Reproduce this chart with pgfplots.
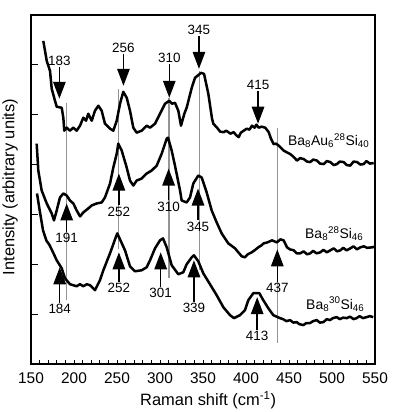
\documentclass[border=0pt]{standalone}
\usepackage{fontspec}
\setmainfont{Liberation Sans}
\usepackage{pgfplots}
\pgfplotsset{compat=1.18}
\usetikzlibrary{arrows.meta}
\tikzset{
  curve/.style={black, line width=2.5bp, line join=round},
  gl/.style={black!42, line width=1.2bp},
  arr/.style={black, line width=1.4bp, -{Triangle[length=17bp, width=12.5bp]}},
  lab/.style={font=\fontsize{13.5}{15}\selectfont, inner sep=1bp},
  blab/.style={font=\fontsize{14}{16}\selectfont, inner sep=0bp, anchor=west},
}

\begin{document}
\begin{tikzpicture}
\begin{axis}[
  scale only axis, width=344bp, height=349bp,
  xmin=150, xmax=550, ymin=0, ymax=7,
  xtick={150,200,...,550},
  minor x tick num=4,
  ytick={1,2,3,4,5,6}, yticklabels={},
  tick align=inside,
  xtick pos=bottom, ytick pos=left,
  major tick length=4bp, minor tick length=4bp,
  ytick style={/pgfplots/major tick length=7bp},
  tick style={black, line width=0.9bp},
  axis line style={line width=1.8bp},
  /pgf/number format/assume math mode=true,
  ticklabel style={font=\fontsize{15.5}{18}\selectfont},
  xticklabel style={yshift=-5bp},
  xlabel={Raman shift (cm\textsuperscript{-1})},
  ylabel={Intensity (arbitrary units)},
  label style={font=\fontsize{16.5}{19}\selectfont},
  xlabel style={at={(axis description cs:0.515,-0.103)}, anchor=center},
  ylabel style={at={(axis description cs:-0.061,0.507)}, anchor=center},
  clip=false,
]
\coordinate (O) at (rel axis cs:0,0);

% gray guide lines
\draw[gl] (axis cs:191.5,5.24) -- (axis cs:191.5,1.28);
\draw[gl] (axis cs:252.2,5.52) -- (axis cs:252.2,2.30);
\draw[gl] (axis cs:310.5,5.34) -- (axis cs:310.5,1.72);
\draw[gl] (axis cs:345.5,5.88) -- (axis cs:345.5,1.88);
\draw[gl] (axis cs:436.4,4.74) -- (axis cs:436.4,0.42);

% Ba8Au6 28Si40
\addplot[curve, no marks] coordinates {
(164.3,6.48)(168.3,6.08)(172.1,5.88)(174.1,5.52)(177.9,5.28)(179.9,5.16)(185.7,5.14)
(187.6,4.94)(188.7,4.68)(191.5,4.74)(195.3,4.68)(199.2,4.74)(203.1,4.68)(207.0,4.78)
(210.8,4.94)(214.0,4.88)(216.6,5.02)(220.6,4.88)(224.4,5.08)(228.3,5.18)(232.2,5.08)
(236.0,4.82)(241.9,4.72)(245.7,4.68)(249.7,4.88)(253.5,5.22)(257.3,5.46)(261.3,5.34)
(265.1,5.08)(269.0,4.74)(272.9,4.64)(278.7,4.68)(284.5,4.78)(288.4,4.74)(294.2,4.82)
(300.0,5.02)(305.8,5.22)(310.8,5.28)(314,5.22)(317.4,5.24)(321.3,5.08)(324.4,4.78)(328.3,5.02)
(331.0,5.14)(336.9,5.54)(340.7,5.74)(347.7,5.84)(351.2,5.82)(356.2,5.42)(360.5,4.92)
(362.0,4.82)(366.3,4.74)(370,4.66)(374.1,4.65)(377,4.68)(379.4,4.65)(382,4.62)(385.7,4.65)
(388,4.60)(391.5,4.55)(394,4.64)(397.3,4.68)(401,4.72)(404,4.70)(407,4.78)(410,4.74)
(412,4.80)(414.8,4.74)(418,4.76)(422.4,4.74)(426.4,4.65)(429,4.52)(432.2,4.41)(435,4.42)
(438,4.38)(441,4.33)(443.8,4.28)(447,4.25)(451.5,4.21)(455,4.16)(459.3,4.08)(463,4.13)
(467.1,4.11)(471,4.06)(474.8,4.05)(478,4.10)(482.6,4.08)(486,4.02)(490.3,4.01)(494,4.07)
(498,4.05)(502,3.99)(505.8,4.01)(509,4.06)(513.6,4.05)(517,3.99)(521.3,3.98)(525,4.06)
(529.1,4.05)(533,4.00)(536.9,4.01)(540,4.07)(544,4.02)(548.5,4.03)
};

% Ba8 28Si46
\addplot[curve, no marks] coordinates {
(156.6,4.42)(158.5,3.88)(162.4,3.48)(168.3,3.22)(174.1,3.02)(176.7,2.88)(179.9,3.08)
(183.7,3.34)(187.6,3.42)(191.5,3.38)(195.3,3.28)(199.2,3.22)(203.1,3.08)(207.0,2.96)
(210.8,3.04)(216.6,3.12)(220.6,3.18)(226.4,3.22)(232.2,3.24)(236.0,3.34)(241.9,3.62)
(245.7,3.94)(249.7,4.22)(251.5,4.42)(255.5,4.28)(261.3,3.94)(265.1,3.68)(269.0,3.58)
(272.9,3.68)(278.7,3.72)(284.5,3.82)(290.3,3.88)(296.2,3.98)(302.0,4.22)(307.8,4.52)
(309.3,4.54)(313.6,4.28)(317.4,3.98)(323.3,3.48)(325.2,3.28)(331.0,3.24)(334.9,3.34)
(338.7,3.62)(344.5,3.78)(348.5,3.74)(354.3,3.44)(360.1,3.08)(365.9,2.84)(371.7,2.62)
(379.4,2.42)(387.2,2.32)(395.0,2.16)(398.8,2.14)(402,2.20)(406.6,2.24)(410,2.28)(414.3,2.34)
(418,2.38)(420.6,2.42)(425,2.44)(430.2,2.48)(433,2.46)(436.0,2.44)(440,2.50)(443.8,2.48)
(447.7,2.34)(451,2.30)(455.5,2.28)(459,2.22)(463.1,2.22)(467,2.26)(471,2.20)(474.8,2.22)
(478,2.27)(482,2.22)(486.4,2.24)(490,2.29)(494,2.24)(498,2.28)(502,2.32)(506,2.26)
(509.7,2.28)(513,2.33)(517,2.28)(521.3,2.32)(525,2.36)(529,2.30)(532.9,2.34)(537,2.36)
(541,2.33)(546.5,2.34)(549,2.35)
};

% Ba8 30Si46
\addplot[curve, no marks] coordinates {
(157.0,3.42)(160.1,3.08)(164.0,2.68)(167.8,2.48)(171.7,2.38)(175.6,2.24)(179.9,2.08)
(185.7,1.92)(189.5,1.72)(195.3,1.60)(203.1,1.56)(207,1.60)(210.8,1.56)(215,1.60)(218.6,1.58)
(224.4,1.48)(230.2,1.68)(234.1,1.88)(241.9,2.22)(247.7,2.50)(250.3,2.62)(253.5,2.50)
(259.3,2.28)(265.1,1.96)(270.9,1.86)(278.7,1.88)(284.5,1.94)(288.4,2.08)(294.2,2.32)
(300.0,2.48)(303.5,2.52)(307.8,2.34)(313.6,1.98)(321.3,1.80)(327.1,1.84)(331.0,2.00)
(336.9,2.14)(339.5,2.18)(344.5,2.06)(350.3,1.82)(358.1,1.60)(365.9,1.38)(373.6,1.14)
(381.4,0.98)(386.0,0.92)(393.0,0.98)(398.8,1.08)(402.7,1.28)(408.5,1.42)(415.5,1.42)
(420.1,1.28)(425.9,1.12)(431.7,0.98)(435.5,0.95)(439.5,0.92)(443,0.90)(447,0.86)(451.2,0.88)
(455,0.83)(458.9,0.84)(462,0.80)(466.6,0.78)(470,0.82)(474.4,0.82)(478,0.86)(482.2,0.88)
(486,0.83)(490,0.84)(494,0.90)(497.7,0.88)(501,0.92)(505.5,0.94)(509,0.90)(513,0.93)
(517.1,0.92)(521,0.95)(525,0.90)(528.7,0.92)(532,0.96)(536,0.92)(540.3,0.94)(544,0.96)
(548,0.94)
};

% down arrows (top spectrum)
\draw[arr] (axis cs:183,5.96) -- (axis cs:183,5.32);
\node[lab,anchor=south] at (axis cs:183,5.96) {183};
\draw[arr] (axis cs:257.5,6.22) -- (axis cs:257.5,5.58);
\node[lab,anchor=south] at (axis cs:257.5,6.22) {256};
\draw[arr] (axis cs:310.8,6.02) -- (axis cs:310.8,5.34);
\node[lab,anchor=south] at (axis cs:310.8,6.02) {310};
\draw[arr] (axis cs:345.3,6.58) -- (axis cs:345.3,5.92);
\node[lab,anchor=south] at (axis cs:345.3,6.58) {345};
\draw[arr] (axis cs:414,5.48) -- (axis cs:414,4.82);
\node[lab,anchor=south] at (axis cs:414,5.48) {415};

% up arrows (middle spectrum)
\draw[arr] (axis cs:191.5,2.64) -- (axis cs:191.5,3.22);
\node[lab,anchor=north] at (axis cs:191.5,2.64) {191};
\draw[arr] (axis cs:252.2,3.18) -- (axis cs:252.2,3.82);
\node[lab,anchor=north] at (axis cs:252.2,3.18) {252};
\draw[arr] (axis cs:310,3.28) -- (axis cs:310,3.92);
\node[lab,anchor=north] at (axis cs:310,3.28) {310};
\draw[arr] (axis cs:344.2,2.88) -- (axis cs:344.2,3.52);
\node[lab,anchor=north] at (axis cs:344.2,2.88) {345};
\draw[arr] (axis cs:436.4,1.64) -- (axis cs:436.4,2.30);
\node[lab,anchor=north] at (axis cs:436.4,1.64) {437};

% up arrows (bottom spectrum)
\draw[arr] (axis cs:183.4,1.22) -- (axis cs:183.4,1.94);
\node[lab,anchor=north] at (axis cs:183.4,1.22) {184};
\draw[arr] (axis cs:252.2,1.64) -- (axis cs:252.2,2.24);
\node[lab,anchor=north] at (axis cs:252.2,1.64) {252};
\draw[arr] (axis cs:300.8,1.54) -- (axis cs:300.8,2.24);
\node[lab,anchor=north] at (axis cs:300.8,1.54) {301};
\draw[arr] (axis cs:339.5,1.24) -- (axis cs:339.5,2.08);
\node[lab,anchor=north] at (axis cs:339.5,1.24) {339};
\draw[arr] (axis cs:413,0.68) -- (axis cs:413,1.34);
\node[lab,anchor=north] at (axis cs:413,0.68) {413};

% sample labels
\node[blab] at (axis cs:448.8,4.48) {Ba\textsubscript{8}Au\textsubscript{6}\textsuperscript{28}Si\textsubscript{40}};
\node[blab] at (axis cs:468.6,2.62) {Ba\textsubscript{8}\textsuperscript{28}Si\textsubscript{46}};
\node[blab] at (axis cs:469.8,1.20) {Ba\textsubscript{8}\textsuperscript{30}Si\textsubscript{46}};
\end{axis}
\pgfresetboundingbox
\path[use as bounding box] (O) ++(-31bp,-48bp) rectangle ++(397bp,412bp);
\end{tikzpicture}
\end{document}
